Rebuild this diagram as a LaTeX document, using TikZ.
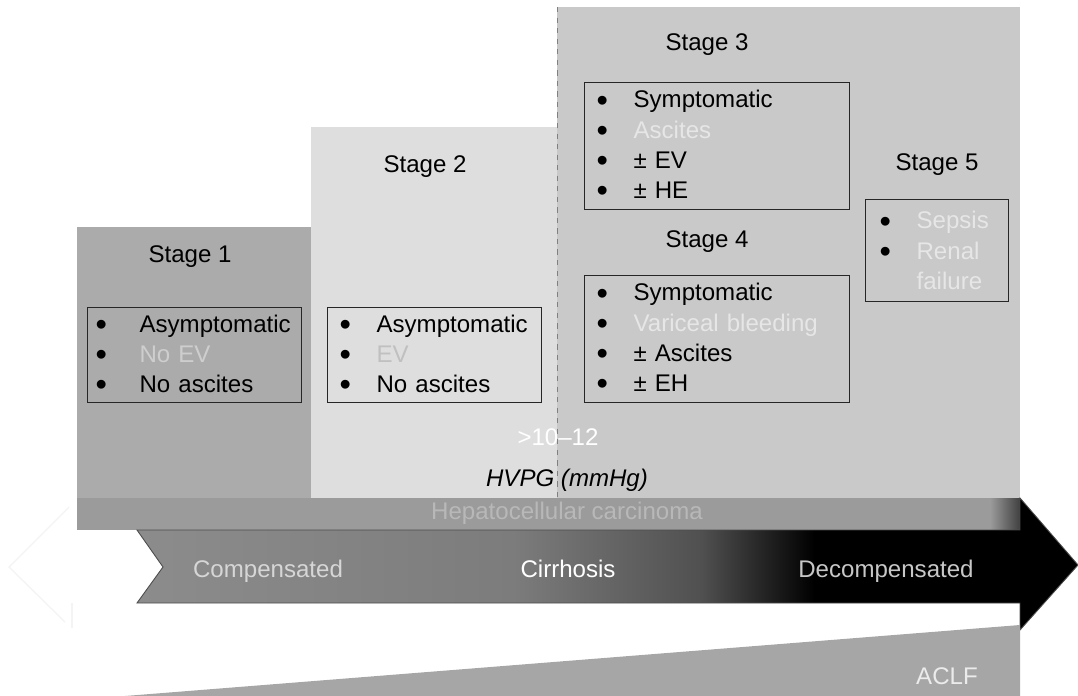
\documentclass[tikz,border=0pt]{standalone}
\usepackage{fontspec}
\setmainfont{Liberation Sans}
\usepackage{graphicx}
\usepackage{tikz}
\usetikzlibrary{positioning}
\definecolor{stageone}{RGB}{171,171,171}
\definecolor{stagetwo}{RGB}{222,222,222}
\definecolor{stagethree}{RGB}{201,201,201}
\definecolor{hccband}{RGB}{155,155,155}
\definecolor{hcctext}{RGB}{184,184,184}
\definecolor{aclfgray}{RGB}{166,166,166}
\definecolor{fadedone}{RGB}{206,206,206}
\definecolor{fadedtwo}{RGB}{192,192,192}
\definecolor{fadedthree}{RGB}{230,230,230}
\definecolor{arrowgray}{RGB}{140,140,140}
\definecolor{arrowmid}{RGB}{124,124,124}
\definecolor{arrowdark}{RGB}{80,80,80}
\definecolor{ghostline}{RGB}{244,244,244}
\pgfdeclarehorizontalshading{cirrshade}{100bp}{color(0bp)=(arrowgray);
  color(25bp)=(arrowgray); color(45bp)=(arrowmid); color(55bp)=(arrowdark);
  color(61bp)=(black); color(100bp)=(black)}
\newcommand{\stfont}{\fontsize{13.7}{17.2}\selectfont}
\newcommand{\bl}[1][0.74cm]{\makebox[#1][l]{\raisebox{-0.13em}{\scalebox{1.35}{\textbullet}}}}
\newcommand{\fd}[2][fadedthree]{\textcolor{#1}{#2}}
\tikzset{
  stagebox/.style={
    draw=black!85, line width=0.7pt, anchor=north west,
    align=left, inner xsep=0.24cm, inner ysep=0pt, font=\stfont
  },
  stagettl/.style={font=\stfont, inner sep=0pt},
  barlbl/.style={font=\stfont, inner sep=0pt},
  arrlbl/.style={barlbl, anchor=base},
  ghost/.style={draw=ghostline, line width=0.8pt}
}

\begin{document}
\begin{tikzpicture}[x=0.02cm, y=-0.02cm]
  \useasboundingbox (0,0) rectangle (1078,696);

  %% ── stage panels ────────────────────────────────────────
  \fill[stageone]   (77,227) rectangle (311,498);
  \fill[stagetwo]   (311,127) rectangle (557,498);
  \fill[stagethree] (557,7)   rectangle (1020,498);
  \draw[gray, dashed, line width=0.5pt] (557,7) -- (557,498);

  %% ── hepatocellular carcinoma band ───────────────────────
  \fill[hccband] (77,498) rectangle (1020,530);
  \shade[left color=hccband, right color=black!75] (990,498) rectangle (1020,530);
  \node[barlbl, text=hcctext] (hcc) at (567,513) {Hepatocellular carcinoma};

  %% ── faint outline on the left ───────────────────────────
  \draw[ghost] (69,507) -- (9,567) -- (65,622);
  \draw[ghost] (72,603) -- (72,628);

  %% ── cirrhosis arrow ─────────────────────────────────────
  \path[shading=cirrshade, draw=black!70, line width=0.5pt]
    (137,530) -- (1020,530) -- (1020,498) -- (1078,565)
    -- (1020,630) -- (1020,603) -- (137,603) -- (163,567) -- cycle;
  \node[arrlbl, text=white!84!black] (comp)   at (268,577) {Compensated};
  \node[arrlbl, text=white]          (cirr)   at (568,577) {Cirrhosis};
  \node[arrlbl, text=white!78!black] (decomp) at (886,577) {Decompensated};

  %% ── ACLF wedge ──────────────────────────────────────────
  \fill[aclfgray] (125,696) -- (1020,625) -- (1020,696) -- cycle;
  \node[arrlbl, text=white!92!black] (aclf) at (947,684) {ACLF};

  %% ── stage titles ────────────────────────────────────────
  \node[stagettl] (t1) at (190,257) {Stage 1};
  \node[stagettl] (t2) at (425,167) {Stage 2};
  \node[stagettl] (t3) at (707,45)  {Stage 3};
  \node[stagettl] (t4) at (707,242) {Stage 4};
  \node[stagettl] (t5) at (937,165) {Stage 5};

  %% ── stage boxes ─────────────────────────────────────────
  \node[stagebox, inner xsep=0.16cm, text width=3.96cm, minimum height=1.9cm]
        (b1) at (87,307)
        {\bl[0.88cm]Asymptomatic\\ \bl[0.88cm]\fd[fadedone]{No EV}\\
         \bl[0.88cm]No ascites};
  \node[stagebox, text width=3.8cm, minimum height=1.9cm]
        (b2) at (327,307)
        {\bl Asymptomatic\\ \bl\fd[fadedtwo]{EV}\\ \bl No ascites};
  \node[stagebox, text width=4.82cm, minimum height=2.54cm]
        (b3) at (584,82)
        {\bl Symptomatic\\ \bl\fd{Ascites}\\ \bl ± EV\\ \bl ± HE};
  \node[stagebox, text width=4.82cm, minimum height=2.54cm]
        (b4) at (584,275)
        {\bl Symptomatic\\ \bl\fd{Variceal bleeding}\\ \bl ± Ascites\\ \bl ± EH};
  \node[stagebox, inner xsep=0.28cm, text width=2.3cm, minimum height=2.04cm]
        (b5) at (865,199)
        {\bl\fd{Sepsis}\\ \bl\fd{Renal}\\ \hspace*{0.74cm}\fd{failure}};

  %% ── HVPG threshold ──────────────────────────────────────
  \node[barlbl, text=white] (thr)  at (558,437) {>10–12};
  \node[barlbl, font=\stfont\itshape] (hvpg) at (567,480) {HVPG (mmHg)};

\end{tikzpicture}
\end{document}
